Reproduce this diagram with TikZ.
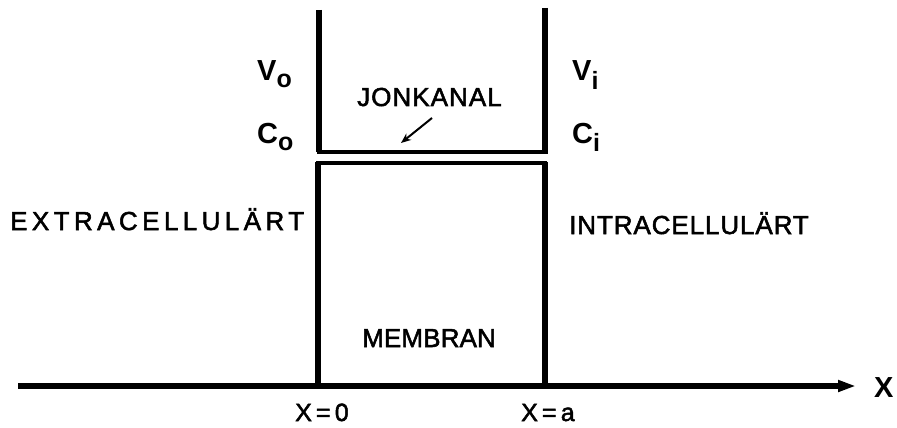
\documentclass[tikz,border=0pt]{standalone}
\usepackage{fontspec}
\setmainfont{Liberation Sans}
\usetikzlibrary{arrows.meta}
\newfontfamily\lblA[LetterSpace=17,FakeBold=2]{Liberation Sans}
\newfontfamily\lblB[LetterSpace=3.5,FakeBold=2]{Liberation Sans}
\newfontfamily\lblC[LetterSpace=4,FakeBold=2]{Liberation Sans}
\newfontfamily\lblD[LetterSpace=0.5,FakeBold=2]{Liberation Sans}
\newfontfamily\lblE[FakeBold=2]{Liberation Sans}
\begin{document}
\begin{tikzpicture}[x=1pt,y=-1pt,
  wall/.style={line width=5.5pt,line cap=butt,line join=miter},
  thin wall/.style={line width=3.5pt},
  lbl/.style={inner sep=0pt,font=\fontsize{26}{26}\selectfont},
  sym/.style={inner sep=0pt,font=\fontsize{29}{29}\selectfont\bfseries},
  axlbl/.style={inner sep=0pt,font=\fontsize{25}{25}\selectfont\lblE}]
\useasboundingbox (0,0) rectangle (897,428);
% upper channel walls
\draw[wall] (319,10) -- (319,152);
\draw[wall] (545,8) -- (545,152);
\draw[thin wall] (316.5,152) -- (547.5,152);
% membrane box
\draw[thin wall] (316,163) -- (547,163);
\draw[wall] (318,161.5) -- (318,386);
\draw[wall] (545,161.5) -- (545,386);
% axis
\coordinate (axL) at (18,386);
\coordinate (axR) at (858,386);
\draw[line width=6pt,-{Triangle[length=18pt,width=11pt,sep=2pt]}] (axL) -- (axR);
\node[sym,anchor=west] (X) at (874,388) {X};
% labels
\node[sym,anchor=base west] (Vo) at (257,81) {V\raisebox{-7pt}{\fontsize{25}{25}\selectfont o}};
\node[sym,anchor=base west] (Co) at (257,143) {C\raisebox{-7pt}{\fontsize{25}{25}\selectfont o}};
\node[sym,anchor=base west] (Vi) at (572,81) {V\raisebox{-9pt}{\fontsize{25}{25}\selectfont i}};
\node[sym,anchor=base west] (Ci) at (572,143) {C\raisebox{-8pt}{\fontsize{25}{25}\selectfont i}};
\node[lbl,anchor=base west] (jon) at (357,106) {\lblC JONKANAL};
\coordinate (jA) at (432,118);
\coordinate (jB) at (401,143);
\draw[line width=2pt,-{Stealth[length=10pt,width=8pt]}] (jA) -- (jB);
\node[lbl,anchor=base west] (extra) at (10,230) {\lblA EXTRACELLULÄRT};
\node[lbl,anchor=base west] (intra) at (569,234) {\lblB INTRACELLULÄRT};
\node[lbl,anchor=base west] (mem) at (362,347) {\lblD MEMBRAN};
\node[axlbl,anchor=base west] (x0) at (295,421) {X{\,}={\,}0};
\node[axlbl,anchor=base west] (xa) at (521,421) {X{\,}={\,}a};
\end{tikzpicture}
\end{document}
